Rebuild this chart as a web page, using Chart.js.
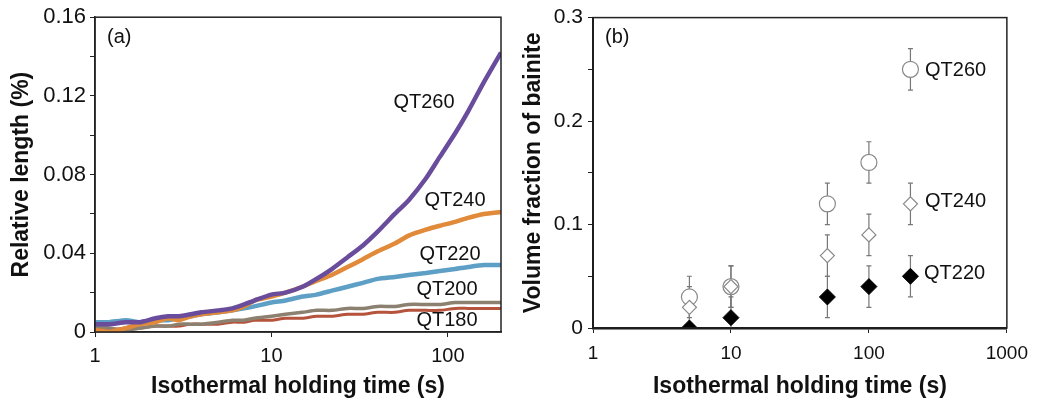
<!DOCTYPE html>
<html>
<head>
<meta charset="utf-8">
<script src="https://cdn.jsdelivr.net/npm/chart.js@4.4.1/dist/chart.umd.min.js"></script>
<style>
  body { margin: 0; background: #fff; }
  #wrapA { position: absolute; left: 0; top: 0; width: 520px; height: 405px; }
  #wrapB { position: absolute; left: 520px; top: 0; width: 517px; height: 405px; }
</style>
</head>
<body>
<div id="wrapA"><canvas id="chartA"></canvas></div>
<div id="wrapB"><canvas id="chartB"></canvas></div>
<script>
// panel (a) - dilatometry, relative length vs time
const times = [1, 1.2, 1.5, 1.8, 2.2, 2.6, 3, 3.5, 4, 5, 6, 7, 8, 10, 12, 15, 18, 22, 27, 33, 40, 50, 60, 75, 90, 110, 130, 160, 200];
const qt260 = [0.004, 0.004, 0.005, 0.005, 0.007, 0.008, 0.008, 0.009, 0.010, 0.011, 0.012, 0.014, 0.016, 0.019, 0.020, 0.023, 0.027, 0.032, 0.038, 0.044, 0.051, 0.060, 0.067, 0.078, 0.089, 0.101, 0.112, 0.127, 0.142];
const qt240 = [0.001, 0.000, 0.002, 0.004, 0.005, 0.007, 0.006, 0.008, 0.009, 0.010, 0.011, 0.013, 0.016, 0.018, 0.020, 0.023, 0.026, 0.029, 0.033, 0.037, 0.041, 0.045, 0.049, 0.052, 0.054, 0.056, 0.058, 0.060, 0.061];
const qt220 = [0.005, 0.005, 0.006, 0.005, 0.006, 0.006, 0.007, 0.008, 0.009, 0.010, 0.011, 0.012, 0.013, 0.015, 0.016, 0.018, 0.019, 0.021, 0.023, 0.025, 0.027, 0.028, 0.029, 0.030, 0.031, 0.032, 0.033, 0.034, 0.034];
const qt200 = [0.003, 0.002, 0.001, 0.002, 0.003, 0.003, 0.004, 0.004, 0.004, 0.005, 0.006, 0.006, 0.007, 0.008, 0.009, 0.010, 0.011, 0.011, 0.012, 0.012, 0.013, 0.013, 0.014, 0.014, 0.014, 0.015, 0.015, 0.015, 0.015];
const qt180 = [0.002, 0.001, 0.002, 0.002, 0.003, 0.003, 0.003, 0.004, 0.004, 0.004, 0.005, 0.005, 0.006, 0.006, 0.007, 0.007, 0.008, 0.008, 0.009, 0.009, 0.010, 0.010, 0.011, 0.011, 0.011, 0.012, 0.012, 0.012, 0.012];
const ticksA = [1, 10, 100];

// panel (b) - volume fraction of bainite
const holdTimes = [5, 10, 50, 100, 200];
const vf260 = [0.03, 0.04, 0.12, 0.16, 0.25];
const vf240 = [0.02, 0.04, 0.07, 0.09, 0.12];
const vf220 = [0.00, 0.01, 0.03, 0.04, 0.05];
const err260 = [0.02, 0.02, 0.02, 0.02, 0.02];
const err240 = [0.02, 0.02, 0.02, 0.02, 0.02];
const err220 = [0.02, 0.02, 0.02, 0.02, 0.02];
const ticksB = [1, 10, 100, 1000];

function pts(xs, ys) {
  return xs.map((x, i) => ({x: x, y: ys[i]}));
}

const frame = {
  id: 'frame',
  afterDraw(chart) {
    const ctx = chart.ctx, a = chart.chartArea;
    ctx.save();
    ctx.strokeStyle = '#222';
    ctx.lineWidth = 1.5;
    ctx.strokeRect(a.left, a.top, a.right - a.left, a.bottom - a.top);
    ctx.restore();
  }
};

const notes = {
  id: 'notes',
  afterDraw(chart, args, opts) {
    const ctx = chart.ctx;
    ctx.save();
    ctx.fillStyle = '#111';
    ctx.textBaseline = 'middle';
    opts.items.forEach(n => {
      ctx.font = '20px "Liberation Sans", Arial, sans-serif';
      ctx.textAlign = n.align;
      ctx.fillText(n.text, n.x, n.y);
    });
    ctx.restore();
  }
};

const errorBars = {
  id: 'errorBars',
  beforeDatasetsDraw(chart) {
    const ctx = chart.ctx, a = chart.chartArea;
    const x = chart.scales.x, y = chart.scales.y;
    ctx.save();
    ctx.beginPath();
    ctx.rect(a.left, a.top, a.right - a.left, a.bottom - a.top);
    ctx.clip();
    ctx.strokeStyle = '#777';
    ctx.lineWidth = 1.2;
    chart.data.datasets.forEach(ds => {
      if (!ds.err) return;
      ds.data.forEach((p, i) => {
        const px = x.getPixelForValue(p.x);
        const top = y.getPixelForValue(p.y + ds.err[i]);
        const bot = y.getPixelForValue(p.y - ds.err[i]);
        ctx.beginPath();
        ctx.moveTo(px, top); ctx.lineTo(px, bot);
        ctx.moveTo(px - 2.5, top); ctx.lineTo(px + 2.5, top);
        ctx.moveTo(px - 2.5, bot); ctx.lineTo(px + 2.5, bot);
        ctx.stroke();
      });
    });
    ctx.restore();
  }
};

const fam = '"Liberation Sans", Arial, sans-serif';
const titleFont = {family: fam, size: 23, weight: 'bold'};

function line(label, ys, color, w) {
  return {
    label: label,
    data: pts(times, ys),
    borderColor: color,
    backgroundColor: color,
    borderWidth: w,
    pointRadius: 0,
    tension: 0.2,
    fill: false
  };
}

new Chart(document.getElementById('chartA'), {
  type: 'line',
  data: {
    datasets: [
      line('QT260', qt260, '#6a4c9c', 4.5),
      line('QT240', qt240, '#e08a3a', 4.5),
      line('QT220', qt220, '#5e9fc6', 4.5),
      line('QT200', qt200, '#8c8070', 3.5),
      line('QT180', qt180, '#b5533c', 3)
    ]
  },
  options: {
    responsive: true,
    maintainAspectRatio: false,
    animation: false,
    layout: { padding: { top: 16, right: 19, bottom: 0, left: 0 } },
    plugins: {
      legend: { display: false },
      tooltip: { enabled: false },
      notes: {
        items: [
          {text: '(a)', x: 107, y: 37, align: 'left'},
          {text: 'QT260', x: 424, y: 102, align: 'center'},
          {text: 'QT240', x: 455, y: 200, align: 'center'},
          {text: 'QT220', x: 450, y: 254, align: 'center'},
          {text: 'QT200', x: 447, y: 289, align: 'center'},
          {text: 'QT180', x: 447, y: 320, align: 'center'}
        ]
      }
    },
    scales: {
      x: {
        type: 'logarithmic',
        min: 1,
        max: 200,
        afterBuildTicks: s => { s.ticks = ticksA.map(v => ({value: v})); },
        afterFit: s => { s.height = 73; },
        ticks: { font: {family: fam, size: 20}, color: '#111', padding: 7, maxRotation: 0, callback: v => String(v) },
        grid: { drawOnChartArea: false, tickLength: 5, color: '#222' },
        border: { color: '#222', width: 1.5 },
        title: { display: true, text: 'Isothermal holding time (s)', font: titleFont, color: '#111', padding: { top: 0, bottom: 5 } }
      },
      y: {
        min: 0,
        max: 0.16,
        afterFit: s => { s.width = 95; },
        ticks: {
          stepSize: 0.02,
          font: {family: fam, size: 22},
          color: '#111',
          padding: 4,
          callback: v => {
            const k = Math.round(v * 100);
            if (k % 4 !== 0) return '';
            return k === 0 ? '0' : v.toFixed(2);
          }
        },
        grid: { drawOnChartArea: false, tickLength: 5, color: '#222' },
        border: { color: '#222', width: 1.5 },
        title: { display: true, text: 'Relative length (%)', font: titleFont, color: '#111', padding: { top: 8, bottom: 0 } }
      }
    }
  },
  plugins: [frame, notes]
});

new Chart(document.getElementById('chartB'), {
  type: 'scatter',
  data: {
    datasets: [
      {
        label: 'QT220',
        data: pts(holdTimes, vf220),
        err: err220,
        pointStyle: 'rectRot',
        pointRadius: 8,
        backgroundColor: '#000',
        borderColor: '#000',
        borderWidth: 1
      },
      {
        label: 'QT240',
        data: pts(holdTimes, vf240),
        err: err240,
        pointStyle: 'rectRot',
        pointRadius: 7,
        backgroundColor: '#fff',
        borderColor: '#888',
        borderWidth: 1.2
      },
      {
        label: 'QT260',
        data: pts(holdTimes, vf260),
        err: err260,
        pointStyle: 'circle',
        pointRadius: 8,
        backgroundColor: '#fff',
        borderColor: '#888',
        borderWidth: 1.2
      }
    ]
  },
  options: {
    responsive: true,
    maintainAspectRatio: false,
    animation: false,
    layout: { padding: { top: 16, right: 25, bottom: 0, left: 0 } },
    plugins: {
      legend: { display: false },
      tooltip: { enabled: false },
      notes: {
        items: [
          {text: '(b)', x: 85, y: 37, align: 'left'},
          {text: 'QT260', x: 405, y: 70, align: 'left'},
          {text: 'QT240', x: 405, y: 201, align: 'left'},
          {text: 'QT220', x: 404, y: 273, align: 'left'}
        ]
      }
    },
    scales: {
      x: {
        type: 'logarithmic',
        min: 1,
        max: 1000,
        afterBuildTicks: s => { s.ticks = ticksB.map(v => ({value: v})); },
        afterFit: s => { s.height = 77; },
        ticks: { font: {family: fam, size: 19}, color: '#111', padding: 9, maxRotation: 0, callback: v => String(v) },
        grid: { drawOnChartArea: false, tickLength: 5, color: '#222' },
        border: { color: '#111', width: 2.5 },
        title: { display: true, text: 'Isothermal holding time (s)', font: titleFont, color: '#111', padding: { top: 0, bottom: 5 } }
      },
      y: {
        min: 0,
        max: 0.3,
        afterFit: s => { s.width = 73; },
        ticks: {
          stepSize: 0.05,
          font: {family: fam, size: 21},
          color: '#111',
          padding: 5,
          callback: v => {
            const k = Math.round(v * 100);
            if (k % 10 !== 0) return '';
            return k === 0 ? '0' : (k / 100).toFixed(1);
          }
        },
        grid: { drawOnChartArea: false, tickLength: 5, color: '#222' },
        border: { color: '#111', width: 2 },
        title: { display: true, text: 'Volume fraction of bainite', font: titleFont, color: '#111', padding: { top: 0, bottom: 0 } }
      }
    }
  },
  plugins: [frame, notes, errorBars]
});
</script>
</body>
</html>
